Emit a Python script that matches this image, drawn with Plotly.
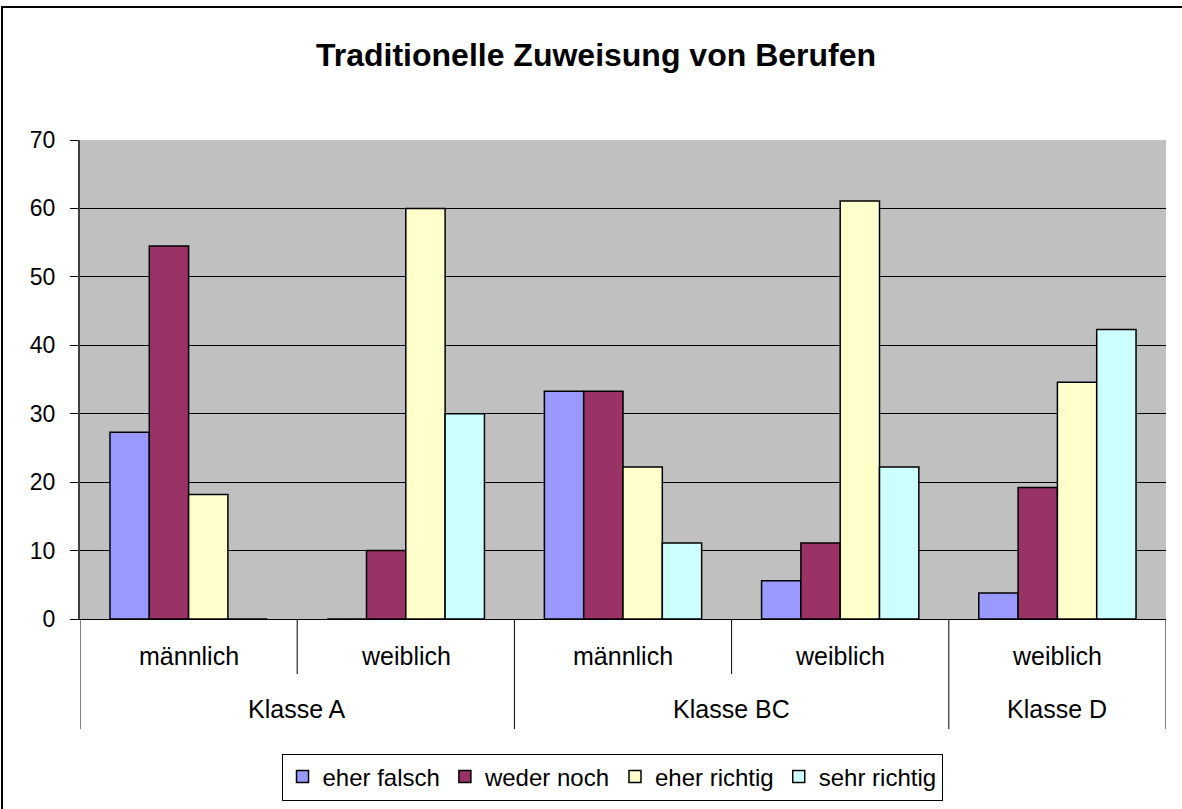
import plotly.graph_objects as go

categories = ["A-m", "A-w", "BC-m", "BC-w", "D-w"]
inner_labels = ["männlich", "weiblich", "männlich", "weiblich", "weiblich"]
outer_labels = ["Klasse A", "Klasse BC", "Klasse D"]
outer_spans = [(0, 1), (2, 3), (4, 4)]

series_names = ["eher falsch", "weder noch", "eher richtig", "sehr richtig"]
eher_falsch = [27.3, 0, 33.3, 5.6, 3.8]
weder_noch = [54.5, 10.0, 33.3, 11.1, 19.2]
eher_richtig = [18.2, 60.0, 22.2, 61.1, 34.6]
sehr_richtig = [0, 30.0, 11.1, 22.2, 42.3]
colors = ["#9999FF", "#993366", "#FFFFCC", "#CCFFFF"]

y_ticks = [0, 10, 20, 30, 40, 50, 60, 70]

FONT = "Liberation Sans, Arial, sans-serif"

fig = go.Figure()
for name, vals, col in zip(series_names, [eher_falsch, weder_noch, eher_richtig, sehr_richtig], colors):
    fig.add_trace(go.Bar(
        x=list(range(len(categories))), y=vals, name=name,
        marker=dict(color=col, line=dict(color="black", width=1.5)),
    ))

W, H = 1182, 809
L, R, T, B = 80, 16, 140, 190
pw = W - L - R
ph = H - T - B

def py(pix):
    return (H - B - pix) / ph

def px(pix):
    return (pix - L) / pw

shapes = []
# inner dividers
for xd in [0.5, 2.5]:
    shapes.append(dict(type="line", xref="x", yref="paper", x0=xd, x1=xd, y0=0, y1=py(674),
                       line=dict(color="black", width=1)))
# outer dividers
for xd in [-0.5, 1.5, 3.5, 4.5]:
    shapes.append(dict(type="line", xref="x", yref="paper", x0=xd, x1=xd, y0=0, y1=py(729),
                       line=dict(color="black", width=1)))
# chart frame
shapes.append(dict(type="rect", xref="paper", yref="paper", x0=px(2), x1=px(1190), y0=py(7), y1=py(815),
                   line=dict(color="black", width=2), fillcolor="rgba(0,0,0,0)", layer="below"))

annotations = []
for i, lab in enumerate(inner_labels):
    annotations.append(dict(x=i, y=py(656), xref="x", yref="paper", text=lab, showarrow=False,
                            font=dict(family=FONT, size=25, color="black"), yanchor="middle"))
for lab, (a, b) in zip(outer_labels, outer_spans):
    annotations.append(dict(x=(a + b) / 2, y=py(709), xref="x", yref="paper", text=lab, showarrow=False,
                            font=dict(family=FONT, size=25, color="black"), yanchor="middle"))

fig.update_layout(
    width=W, height=H,
    margin=dict(l=L, r=R, t=T, b=B, autoexpand=False),
    paper_bgcolor="white",
    plot_bgcolor="#C0C0C0",
    barmode="group",
    bargap=0.276,
    bargroupgap=0,
    title=dict(text="<b>Traditionelle Zuweisung von Berufen</b>", x=596 / W, xref="container",
               xanchor="center", y=1 - 55 / H, yanchor="middle",
               font=dict(family=FONT, size=32, color="black")),
    xaxis=dict(range=[-0.5, 4.5], showticklabels=False, showgrid=False, zeroline=False,
               showline=True, linecolor="black", linewidth=1, ticks="", fixedrange=True,
               layer="above traces"),
    yaxis=dict(range=[0, 70], tickvals=y_ticks, ticks="outside", ticklen=8, tickcolor="black",
               showline=True, linecolor="#404040", linewidth=2, showgrid=True, gridcolor="black",
               gridwidth=1, zeroline=False, tickfont=dict(family=FONT, size=23, color="black"),
               ticklabelstandoff=10),
    showlegend=True,
    legend=dict(orientation="h", x=px(612), xanchor="center", y=py(777), yanchor="middle",
                bgcolor="white", bordercolor="black", borderwidth=1,
                font=dict(family=FONT, size=24, color="black"), itemwidth=30, traceorder="normal"),
    shapes=shapes,
    annotations=annotations,
)

fig.write_html("out.html", config={"displayModeBar": False},
               post_script="document.body.style.margin='0';document.body.style.padding='0';")
